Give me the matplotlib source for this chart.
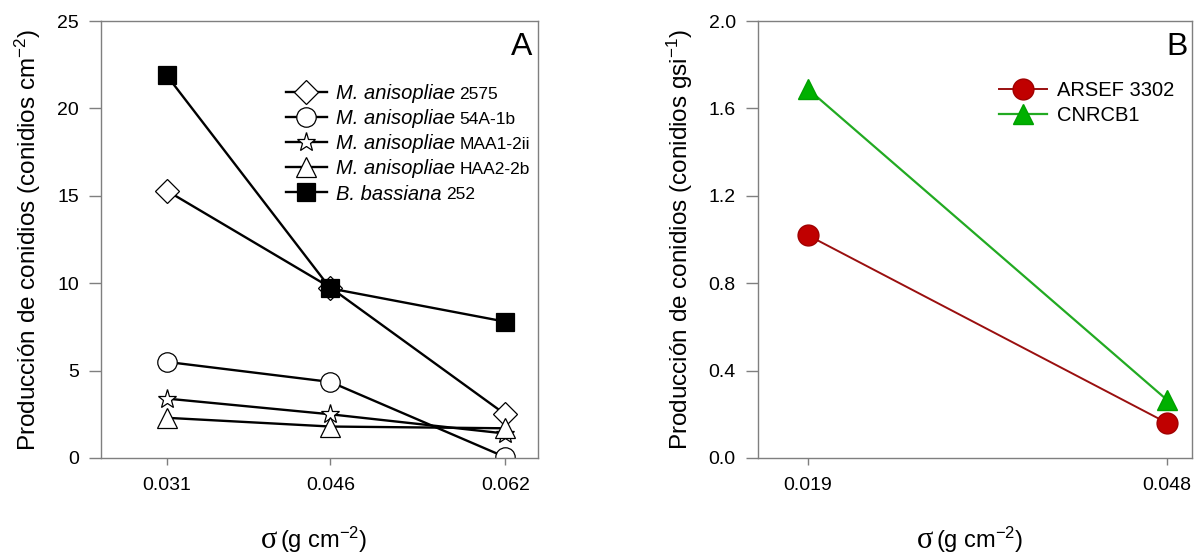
import matplotlib
matplotlib.use("Agg")
import matplotlib.pyplot as plt

plt.rcParams['font.family'] = ['Liberation Sans', 'DejaVu Sans']
plt.rcParams['mathtext.fontset'] = 'custom'
plt.rcParams['mathtext.rm'] = 'Liberation Sans'
plt.rcParams['mathtext.it'] = 'Liberation Sans:italic'

# Panel A data
sigma_a = [0.031, 0.046, 0.062]
ma_2575 = [15.3, 9.75, 2.5]
ma_54a = [5.5, 4.35, 0.05]
ma_maa1 = [3.4, 2.5, 1.4]
ma_haa2 = [2.3, 1.8, 1.7]
bb_252 = [21.9, 9.7, 7.8]
names_a = ["M. anisopliae", "M. anisopliae", "M. anisopliae", "M. anisopliae", "B. bassiana"]
codes_a = ["2575", "54A-1b", "MAA1-2ii", "HAA2-2b", "252"]

# Panel B data
sigma_b = [0.019, 0.048]
arsef = [1.02, 0.16]
cnrcb = [1.69, 0.265]
labels_b = ["ARSEF 3302", "CNRCB1"]

W, H = 1198, 556
fig = plt.figure(figsize=(W / 100, H / 100), dpi=100)
axA = fig.add_axes([101/W, 98/H, 437/W, 437/H])
axB = fig.add_axes([758/W, 98/H, 434/W, 437/H])

spine_col = '#7f7f7f'
for ax in (axA, axB):
    for s in ax.spines.values():
        s.set_color(spine_col)
        s.set_linewidth(1.0)
    ax.tick_params(axis='both', direction='out', colors=spine_col, labelcolor='black',
                   labelsize=14, width=1.0)
    ax.tick_params(axis='y', length=9, pad=7)
    ax.tick_params(axis='x', length=5, pad=8.5)
    ax.tick_params(top=False, right=False)

# --- Panel A ---
styles = [
    dict(marker='D', ms=12.5),
    dict(marker='o', ms=14),
    dict(marker='*', ms=14),
    dict(marker='^', ms=14.5),
    dict(marker='s', ms=12.5),
]
series_a = [ma_2575, ma_54a, ma_maa1, ma_haa2, bb_252]
for vals, st in zip(series_a, styles):
    fc = 'black' if st['marker'] == 's' else 'white'
    axA.plot(sigma_a, vals, color='black', lw=1.7, marker=st['marker'], ms=st['ms'],
             mfc=fc, mec='black', mew=0.9)

axA.set_xlim(0.025, 0.065)
axA.set_ylim(0, 25)
axA.set_xticks(sigma_a)
axA.set_xticklabels(["0.031", "0.046", "0.062"])
axA.set_yticks([0, 5, 10, 15, 20, 25])
axA.set_ylabel("Producción de conidios (conidios cm$^{-2}$)", fontsize=17.5, labelpad=10)
axA.text(0.986, 0.94, "A", transform=axA.transAxes, ha='right', va='center', fontsize=23)

legA = axA.legend(names_a, loc='upper left', bbox_to_anchor=(0.423, 0.855), frameon=False,
                  prop=dict(style='italic', size=14.5), handlelength=2.05, handletextpad=0.45,
                  labelspacing=0.3, borderpad=0, borderaxespad=0)

# --- Panel B ---
axB.plot(sigma_b, arsef, color='#9a0f0f', lw=1.4, marker='o', ms=15,
         mfc='#c00000', mec='#a00000', label=labels_b[0])
axB.plot(sigma_b, cnrcb, color='#22aa22', lw=1.6, marker='^', ms=15,
         mfc='#00b000', mec='#00a000', label=labels_b[1])
axB.set_xlim(0.015, 0.050)
axB.set_ylim(0, 2.0)
axB.set_xticks(sigma_b)
axB.set_xticklabels(["0.019", "0.048"])
axB.set_yticks([0.0, 0.4, 0.8, 1.2, 1.6, 2.0])
axB.set_yticklabels(["0.0", "0.4", "0.8", "1.2", "1.6", "2.0"])
axB.set_ylabel("Producción de conidios (conidios gsi$^{-1}$)", fontsize=17.5, labelpad=10)
axB.text(0.991, 0.94, "B", transform=axB.transAxes, ha='right', va='center', fontsize=23)
axB.legend(loc='upper left', bbox_to_anchor=(0.555, 0.862), frameon=False, fontsize=14.5,
           handlelength=2.4, handletextpad=0.5, labelspacing=0.3, borderpad=0, borderaxespad=0)

# x labels: sigma (serif) plus units
for ax in (axA, axB):
    pos = ax.get_position()
    xc = (pos.x0 + pos.x1) / 2
    fig.text(xc - 42/W, 8/H, "σ", fontsize=22, family='Liberation Serif', ha='right', va='baseline')
    fig.text(xc - 39/W, 8/H, "(g cm$^{-2}$)", fontsize=17, ha='left', va='baseline')

# strain codes next to italic names in legend A (smaller, upright)
fig.canvas.draw()
r = fig.canvas.get_renderer()
inv = fig.transFigure.inverted()
for t, code in zip(legA.get_texts(), codes_a):
    bb = t.get_window_extent(r)
    x, y = inv.transform((bb.x1 + 4, bb.y0 + 0.21 * 14.5 * 100 / 72))
    fig.text(x, y, code, fontsize=12.5, ha='left', va='baseline')

fig.savefig("out.png", dpi=100)
